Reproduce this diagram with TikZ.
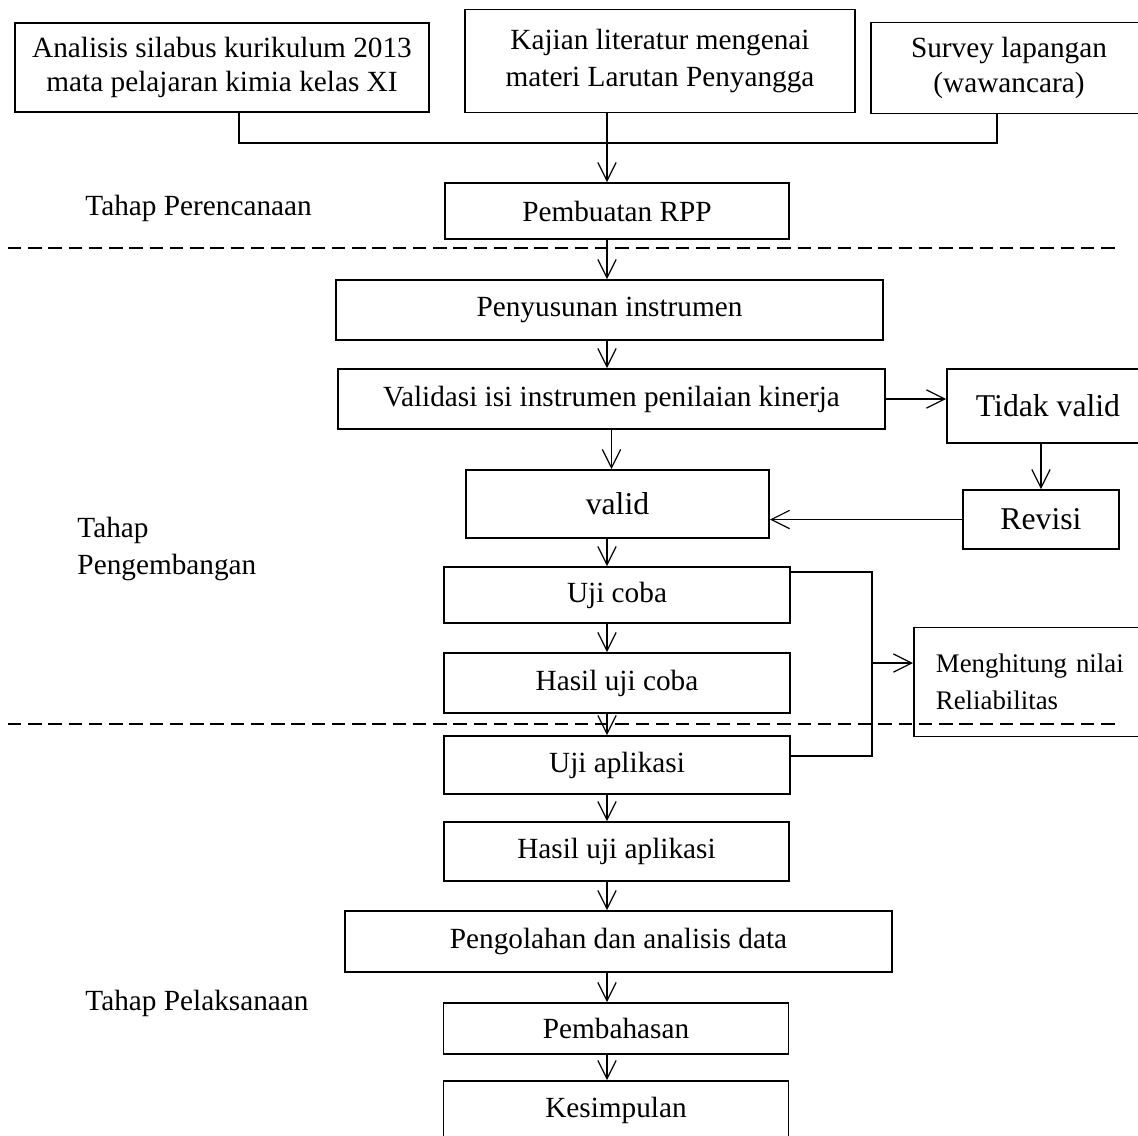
\documentclass[tikz,border=0pt]{standalone}
\usepackage{fontspec}
\setmainfont{Liberation Serif}
\usepackage{tikz}
\usetikzlibrary{arrows.meta}
\tikzset{ukuran/.style 2 args={minimum width=#1*0.41pt, minimum height=#2*0.41pt}}

\begin{document}
\begin{tikzpicture}[
		x=0.41pt, y=-0.41pt,
		kotak/.style={draw, line width=0.8pt, align=center, inner sep=0pt, font=\fontsize{12}{14}\selectfont},
		besar/.style={font=\fontsize{13}{15}\selectfont},
		garis/.style={line width=0.5pt},
		panah/.style={line width=0.5pt, -{Straight Barb[length=7.5pt,width=7.5pt]}},
		putus/.style={line width=0.9pt, dash pattern=on 5.5pt off 2.8pt},
		tahap/.style={anchor=west, align=left, inner sep=0pt, font=\fontsize{12}{15.5}\selectfont}
	]
		\useasboundingbox (0,0) rectangle (1138,1135);
		\clip (0,0) rectangle (1138,1135);

		\node[kotak, ukuran={414}{89}] (anl) at (222,67.5) {Analisis silabus kurikulum 2013\\mata pelajaran kimia kelas XI};
		\node[kotak, ukuran={390}{103}, font=\fontsize{12}{15.5}\selectfont] (kaj) at (660,61) {Kajian literatur mengenai\\materi Larutan Penyangga};
		\node[kotak, ukuran={276}{91}, font=\fontsize{12}{14.5}\selectfont] (srv) at (1009,68) {Survey lapangan\\(wawancara)};

		\node[tahap] (perencanaan) at (85,208) {Tahap Perencanaan};
		\node[kotak, ukuran={344}{56}] (rpp) at (617,211) {Pembuatan RPP};

		\draw[putus] (8,248) -- (1118,248);

		\node[kotak, ukuran={547}{60}] (pny) at (609.5,310) {Penyusunan instrumen};
		\node[kotak, ukuran={547}{60}] (vld) at (611.5,399) {Validasi isi instrumen penilaian kinerja};
		\node[kotak, besar, ukuran={202}{74}] (tdk) at (1048,406) {Tidak valid};
		\node[kotak, besar, ukuran={156}{59}] (rev) at (1041,519.5) {Revisi};
		\node[kotak, besar, ukuran={303}{68}] (val) at (617.5,504) {valid};

		\node[tahap] (pengembangan) at (77,549) {Tahap\\Pengembangan};
		\node[kotak, ukuran={346}{56}] (ujc) at (617,595) {Uji coba};
		\node[kotak, ukuran={346}{60}] (hsc) at (617,683) {Hasil uji coba};
		\node[kotak, anchor=west, align=left, text width=82pt, inner xsep=9pt, minimum height=109*0.41pt, font=\fontsize{11}{15}\selectfont] (mht) at (913,682) {Menghitung nilai\\Reliabilitas};

		\draw[putus] (8,724) -- (1119,724);

		\node[kotak, ukuran={346}{58}] (uja) at (617,765) {Uji aplikasi};
		\node[kotak, ukuran={345}{59}] (hua) at (616.5,851.5) {Hasil uji aplikasi};
		\node[kotak, ukuran={547}{61}] (pgl) at (618.5,941.5) {Pengolahan dan analisis data};
		\node[tahap] (pelaksanaan) at (85,1003) {Tahap Pelaksanaan};
		\node[kotak, ukuran={345}{51}] (pmb) at (616,1028.5) {Pembahasan};
		\node[kotak, ukuran={345}{58}] (ksm) at (616,1110) {Kesimpulan};

		\coordinate (sumbu) at (607,0);
		\coordinate (kiri) at (239,143);
		\coordinate (tengah) at (607,143);
		\coordinate (kanan) at (997,143);
		\draw[garis] (anl.south -| kiri) -- (kiri) -- (kanan) -- (kanan |- srv.south);
		\draw[panah] (kaj.south -| tengah) -- (rpp.north -| tengah);

		\draw[panah] (rpp.south -| sumbu) -- (pny.north -| sumbu);
		\draw[panah] (pny.south -| sumbu) -- (vld.north -| sumbu);
		\draw[panah] (vld.east) -- (vld.east -| tdk.west);
		\draw[panah] (tdk.south -| rev.north) -- (rev.north);
		\draw[panah] (rev.west) -- (rev.west -| val.east);
		\draw[panah] (vld.south) -- (vld.south |- val.north);
		\draw[panah] (val.south -| sumbu) -- (ujc.north -| sumbu);
		\draw[panah] (ujc.south -| sumbu) -- (hsc.north -| sumbu);
		\draw[panah] (hsc.south -| sumbu) -- (uja.north -| sumbu);

		\coordinate (atas) at (872,572);
		\coordinate (bawah) at (872,756);
		\coordinate (cabang) at (872,663);
		\draw[garis] (ujc.east |- atas) -- (atas) -- (bawah) -- (bawah -| uja.east);
		\draw[panah] (cabang) -- (cabang -| mht.west);

		\draw[panah] (uja.south -| sumbu) -- (hua.north -| sumbu);
		\draw[panah] (hua.south -| sumbu) -- (pgl.north -| sumbu);
		\draw[panah] (pgl.south -| sumbu) -- (pmb.north -| sumbu);
		\draw[panah] (pmb.south -| sumbu) -- (ksm.north -| sumbu);
	\end{tikzpicture}
\end{document}
